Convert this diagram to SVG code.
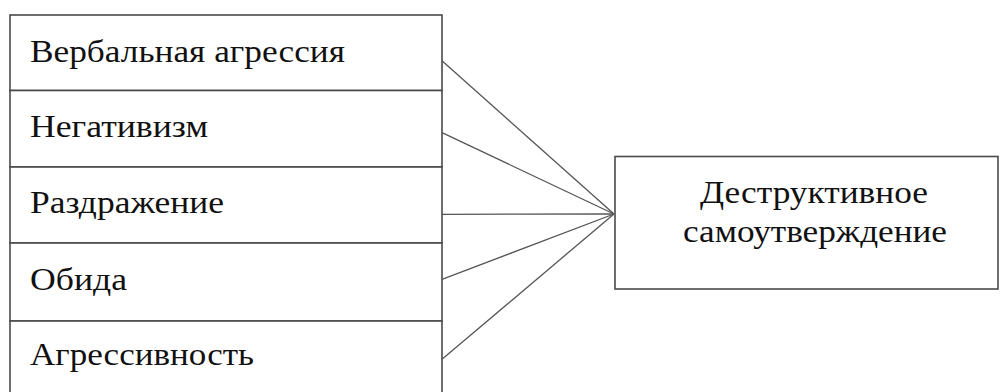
<svg xmlns="http://www.w3.org/2000/svg" width="1000" height="392" viewBox="0 0 1000 392">
<style>
.box{fill:#fff;stroke:#4a4a4a;stroke-width:1.6}
.t{font-family:"Liberation Serif","Times New Roman",serif;font-size:31px;fill:#111}
.c{stroke:#555;stroke-width:1.3;fill:none}
</style>
<rect width="1000" height="392" fill="#fff"/>
<g id="n1"><rect class="box" x="10" y="15" width="432" height="75.5"/><text class="t" x="30" y="62" textLength="315" lengthAdjust="spacingAndGlyphs">Вербальная агрессия</text></g>
<g id="n2"><rect class="box" x="10" y="90.5" width="432" height="76.5"/><text class="t" x="30" y="137" textLength="178" lengthAdjust="spacingAndGlyphs">Негативизм</text></g>
<g id="n3"><rect class="box" x="10" y="167" width="432" height="76"/><text class="t" x="30" y="213" textLength="194" lengthAdjust="spacingAndGlyphs">Раздражение</text></g>
<g id="n4"><rect class="box" x="10" y="243" width="432" height="78"/><text class="t" x="30" y="290" textLength="97" lengthAdjust="spacingAndGlyphs">Обида</text></g>
<g id="n5"><rect class="box" x="10" y="321" width="432" height="78"/><text class="t" x="30" y="365" textLength="224" lengthAdjust="spacingAndGlyphs">Агрессивность</text></g>
<g id="n6"><rect class="box" x="615" y="156.5" width="383" height="132.5"/><text class="t" x="700" y="203" textLength="228" lengthAdjust="spacingAndGlyphs">Деструктивное</text><text class="t" x="683" y="242" textLength="264" lengthAdjust="spacingAndGlyphs">самоутверждение</text></g>
<g id="connectors">
<line class="c" x1="442" y1="60.7" x2="614" y2="214"/>
<line class="c" x1="442" y1="132.7" x2="614" y2="214"/>
<line class="c" x1="442" y1="214.3" x2="614" y2="214"/>
<line class="c" x1="442" y1="279.3" x2="614" y2="214"/>
<line class="c" x1="442" y1="359.3" x2="614" y2="214"/>
</g>
</svg>
